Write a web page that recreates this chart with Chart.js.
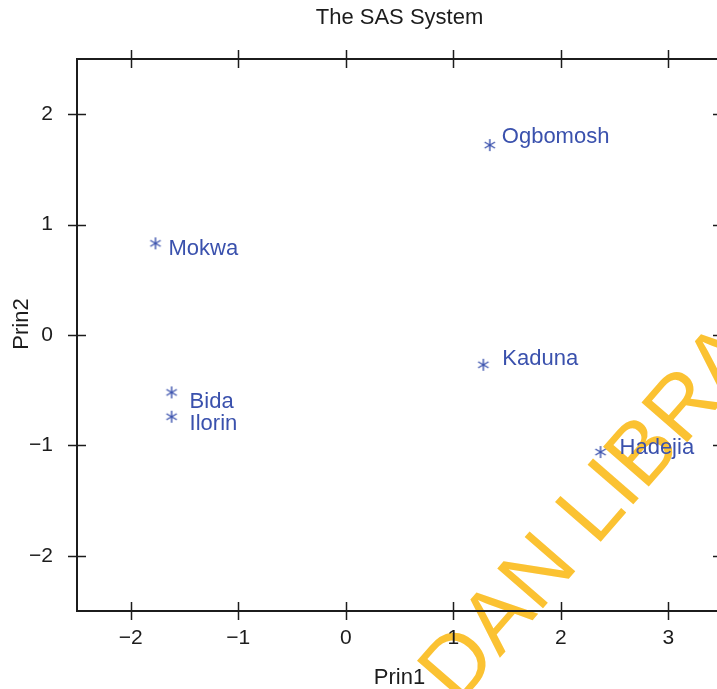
<!DOCTYPE html>
<html>
<head>
<meta charset="utf-8">
<script src="https://cdn.jsdelivr.net/npm/chart.js"></script>
<style>
  html, body { margin: 0; padding: 0; background: #fff; overflow: hidden; }
</style>
</head>
<body>
<canvas id="pcaChart" width="730" height="689"></canvas>
<script>
const towns = ['Ogbomosh', 'Mokwa', 'Kaduna', 'Bida', 'Ilorin', 'Hadejia'];
const prin1 = [1.34, -1.77, 1.28, -1.62, -1.62, 2.37];
const prin2 = [1.72, 0.83, -0.27, -0.52, -0.74, -1.06];
const xTicks = [-2, -1, 0, 1, 2, 3];
const yTicks = [-2, -1, 0, 1, 2];

// where each name sits relative to its star, in px
const labelNudge = [[12, -8], [13, 6], [19, -6], [18, 10], [18, 7], [19, -4]];

const FONT = 'Liberation Sans, Arial, sans-serif';
const BLUE = '#3a51ad';
const INK = '#1c1c1c';

function asterisk(color) {
  const c = document.createElement('canvas');
  c.width = 16; c.height = 16;
  const g = c.getContext('2d');
  g.strokeStyle = color;
  g.lineWidth = 1.4;
  for (const a of [90, 30, 150]) {
    const r = a * Math.PI / 180, dx = Math.cos(r) * 6, dy = Math.sin(r) * 6;
    g.beginPath();
    g.moveTo(8 - dx, 8 - dy);
    g.lineTo(8 + dx, 8 + dy);
    g.stroke();
  }
  return c;
}

const minusLabel = v => (v < 0 ? '\u2212' + Math.abs(v) : String(v));

const backdrop = {
  id: 'backdrop',
  beforeDraw(chart) {
    const ctx = chart.ctx;
    ctx.save();
    ctx.fillStyle = '#fff';
    ctx.fillRect(0, 0, chart.width, chart.height);
    // library stamp across the lower right
    ctx.translate(458, 706);
    ctx.rotate(-49 * Math.PI / 180);
    ctx.fillStyle = '#fbc232';
    ctx.font = '88px ' + FONT;
    ctx.textBaseline = 'alphabetic';
    ctx.fillText('DAN LIBRARY', 0, 0);
    ctx.restore();
  }
};

const decor = {
  id: 'decor',
  afterDraw(chart) {
    const ctx = chart.ctx, a = chart.chartArea;
    const sx = chart.scales.x, sy = chart.scales.y;
    ctx.save();
    // frame
    ctx.strokeStyle = INK;
    ctx.lineWidth = 2;
    ctx.strokeRect(a.left, a.top, a.right - a.left, a.bottom - a.top);
    // tick marks crossing the frame
    ctx.lineWidth = 1.5;
    ctx.beginPath();
    for (const v of xTicks) {
      const px = Math.round(sx.getPixelForValue(v)) + 0.5;
      ctx.moveTo(px, a.bottom - 9); ctx.lineTo(px, a.bottom + 9);
      ctx.moveTo(px, a.top - 9); ctx.lineTo(px, a.top + 9);
    }
    for (const v of yTicks) {
      const py = Math.round(sy.getPixelForValue(v)) + 0.5;
      ctx.moveTo(a.left - 9, py); ctx.lineTo(a.left + 9, py);
      ctx.moveTo(a.right - 9, py); ctx.lineTo(a.right + 9, py);
    }
    ctx.stroke();

    // point names
    ctx.fillStyle = BLUE;
    ctx.font = '22px ' + FONT;
    ctx.textAlign = 'left';
    ctx.textBaseline = 'middle';
    chart.getDatasetMeta(0).data.forEach((pt, i) => {
      ctx.fillText(towns[i], pt.x + labelNudge[i][0], pt.y + labelNudge[i][1]);
    });

    // titles
    ctx.fillStyle = INK;
    ctx.font = '22px ' + FONT;
    ctx.textAlign = 'center';
    const cx = (a.left + a.right) / 2;
    ctx.fillText('The SAS System', cx, 18);
    ctx.fillText('Prin1', cx, 678);
    ctx.translate(22, 324);
    ctx.rotate(-Math.PI / 2);
    ctx.fillText('Prin2', 0, 0);
    ctx.restore();
  }
};

const ctx = document.getElementById('pcaChart');
new Chart(ctx, {
  type: 'scatter',
  data: {
    datasets: [{
      label: 'towns',
      data: prin1.map((x, i) => ({ x: x, y: prin2[i] })),
      pointStyle: asterisk(BLUE),
      pointRadius: 6,
      borderColor: BLUE,
      backgroundColor: BLUE
    }]
  },
  options: {
    responsive: false,
    animation: false,
    layout: { padding: { top: 59, right: 8, left: 0, bottom: 0 } },
    plugins: { legend: { display: false }, tooltip: { enabled: false }, title: { display: false } },
    scales: {
      x: {
        type: 'linear', min: -2.5, max: 3.5,
        grid: { display: false }, border: { display: false },
        afterBuildTicks: s => { s.ticks = xTicks.map(v => ({ value: v })); },
        afterFit: s => { s.height = 78; },
        ticks: { callback: minusLabel, padding: 7, color: INK, font: { family: FONT, size: 21 }, maxRotation: 0, autoSkip: false }
      },
      y: {
        type: 'linear', min: -2.5, max: 2.5,
        grid: { display: false }, border: { display: false },
        afterBuildTicks: s => { s.ticks = yTicks.map(v => ({ value: v })); },
        afterFit: s => { s.width = 77; },
        ticks: { callback: minusLabel, padding: 16, color: INK, font: { family: FONT, size: 21 }, autoSkip: false }
      }
    }
  },
  plugins: [backdrop, decor]
});
</script>
</body>
</html>
